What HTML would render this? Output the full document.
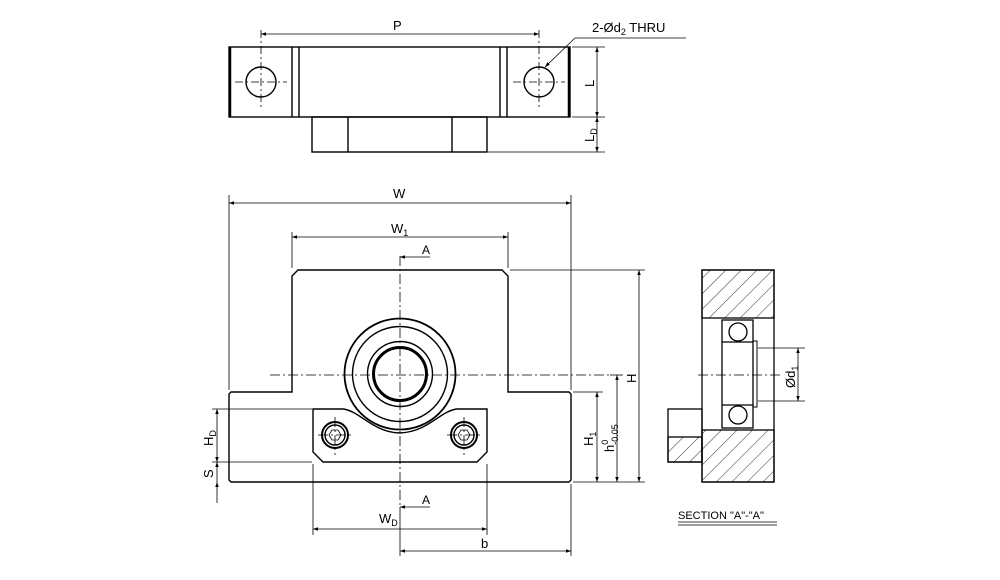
<!DOCTYPE html>
<html><head><meta charset="utf-8"><style>
html,body{margin:0;padding:0;background:#fff}
svg{display:block}
text{font-family:"Liberation Sans",sans-serif;fill:#000}
</style></head><body>
<svg width="1000" height="580" viewBox="0 0 1000 580" xmlns="http://www.w3.org/2000/svg">
<defs>
<marker id="ar" viewBox="0 0 10 10" refX="10" refY="5" markerWidth="10" markerHeight="5" orient="auto-start-reverse" markerUnits="userSpaceOnUse"><path d="M0,1.5 L10,5 L0,8.5 Z" fill="#000"/></marker>
<pattern id="hat" patternUnits="userSpaceOnUse" width="11" height="11" patternTransform="rotate(45)"><line x1="0" y1="0" x2="0" y2="11" stroke="#000" stroke-width="0.8"/></pattern>
</defs>
<g fill="none" stroke="#000" stroke-width="1.4">
<!-- TOP VIEW -->
<rect x="229" y="47" width="341" height="70"/>
<line x1="230" y1="47" x2="230" y2="117" stroke-width="2.5"/>
<line x1="569" y1="47" x2="569" y2="117" stroke-width="2.5"/>
<line x1="292" y1="47" x2="292" y2="117"/><line x1="299" y1="47" x2="299" y2="117"/>
<line x1="500" y1="47" x2="500" y2="117"/><line x1="507" y1="47" x2="507" y2="117"/>
<circle cx="261" cy="82" r="15"/><circle cx="539" cy="82" r="15"/>
<rect x="312" y="117" width="175" height="35"/>
<line x1="348" y1="117" x2="348" y2="152"/><line x1="452" y1="117" x2="452" y2="152"/>
</g>
<g stroke="#000" stroke-width="0.8" fill="none" stroke-dasharray="8,3,2,3">
<line x1="261" y1="30" x2="261" y2="108"/><line x1="235" y1="82" x2="287" y2="82"/>
<line x1="539" y1="30" x2="539" y2="108"/><line x1="513" y1="82" x2="565" y2="82"/>
</g>
<g stroke="#000" stroke-width="0.8" fill="none">
<line x1="261" y1="34" x2="539" y2="34" marker-start="url(#ar)" marker-end="url(#ar)"/>
<line x1="545" y1="67" x2="575" y2="38" marker-start="url(#ar)"/>
<line x1="575" y1="38" x2="686" y2="38"/>
<line x1="572" y1="47" x2="605" y2="47"/><line x1="488" y1="152" x2="605" y2="152"/><line x1="572" y1="117" x2="605" y2="117"/>
<line x1="597" y1="47" x2="597" y2="117" marker-start="url(#ar)" marker-end="url(#ar)"/>
<line x1="597" y1="117" x2="597" y2="152" marker-start="url(#ar)" marker-end="url(#ar)"/>
</g>
<text x="393" y="30" font-size="13">P</text>
<text x="592" y="32" font-size="13">2-Ød<tspan font-size="9" dy="3">2</tspan><tspan dy="-3"> THRU</tspan></text>
<text transform="translate(594,87) rotate(-90)" font-size="13">L</text>
<text transform="translate(594,142) rotate(-90)" font-size="13">L<tspan font-size="9" dy="3">D</tspan></text>

<!-- FRONT VIEW -->
<g fill="none" stroke="#000" stroke-width="1.4">
<path d="M292,392 L292,276 L298,270 L502,270 L508,276 L508,392 L569,392 L571,394 L571,480 L569,482 L231,482 L229,480 L229,394 L231,392 Z"/>
<path d="M313,409 L343,409 C360,411 372,432 400,433 C428,432 440,411 457,409 L487,409 L487,452 L477,462 L323,462 L313,452 Z"/>
<circle cx="400" cy="374" r="55.5" stroke-width="1.8"/>
<circle cx="400" cy="374" r="47.5"/>
<circle cx="400" cy="374" r="32.5"/>
<circle cx="400" cy="374" r="26.5" stroke-width="3"/>
<circle cx="335" cy="435" r="13" stroke-width="2"/>
<circle cx="335" cy="435" r="10"/>
<circle cx="464" cy="435" r="13" stroke-width="2"/>
<circle cx="464" cy="435" r="10"/>
<polygon points="341,435 338,440 332,440 329,435 332,430 338,430" stroke-width="0.8"/>
<polygon points="470,435 467,440 461,440 458,435 461,430 467,430" stroke-width="0.8"/>
</g>
<g stroke="#000" stroke-width="0.8" fill="none" stroke-dasharray="10,3,2,3">
<line x1="400" y1="256" x2="400" y2="507"/>
<line x1="270" y1="375" x2="610" y2="375"/>
<line x1="335" y1="417" x2="335" y2="455"/><line x1="318" y1="435" x2="352" y2="435"/>
<line x1="464" y1="417" x2="464" y2="455"/><line x1="447" y1="435" x2="481" y2="435"/>
</g>
<g stroke="#000" stroke-width="0.8" fill="none">
<line x1="229" y1="195" x2="229" y2="390"/><line x1="571" y1="195" x2="571" y2="390"/>
<line x1="292" y1="232" x2="292" y2="268"/><line x1="508" y1="232" x2="508" y2="268"/>
<line x1="229" y1="203" x2="571" y2="203" marker-start="url(#ar)" marker-end="url(#ar)"/>
<line x1="292" y1="237" x2="508" y2="237" marker-start="url(#ar)" marker-end="url(#ar)"/>
<line x1="430" y1="257" x2="400" y2="257" marker-end="url(#ar)"/>
<line x1="430" y1="507" x2="400" y2="507" marker-end="url(#ar)"/>
<line x1="510" y1="270" x2="645" y2="270"/>
<line x1="573" y1="482" x2="645" y2="482"/>
<line x1="573" y1="392" x2="603" y2="392"/>
<line x1="610" y1="375" x2="623" y2="375"/>
<line x1="639" y1="270" x2="639" y2="482" marker-start="url(#ar)" marker-end="url(#ar)"/>
<line x1="617" y1="375" x2="617" y2="482" marker-start="url(#ar)" marker-end="url(#ar)"/>
<line x1="597" y1="392" x2="597" y2="482" marker-start="url(#ar)" marker-end="url(#ar)"/>
<line x1="212" y1="409" x2="312" y2="409"/>
<line x1="212" y1="462" x2="312" y2="462"/>
<line x1="217" y1="409" x2="217" y2="462" marker-start="url(#ar)" marker-end="url(#ar)"/>
<line x1="217" y1="462" x2="217" y2="482" marker-start="url(#ar)"/>
<line x1="217" y1="482" x2="217" y2="503" marker-start="url(#ar)"/>
<line x1="313" y1="464" x2="313" y2="535"/><line x1="487" y1="464" x2="487" y2="535"/>
<line x1="400" y1="507" x2="400" y2="556"/><line x1="571" y1="484" x2="571" y2="556"/>
<line x1="313" y1="529" x2="487" y2="529" marker-start="url(#ar)" marker-end="url(#ar)"/>
<line x1="400" y1="551" x2="571" y2="551" marker-start="url(#ar)" marker-end="url(#ar)"/>
</g>
<text x="393" y="198" font-size="13">W</text>
<text x="391" y="233" font-size="13">W<tspan font-size="9" dy="3">1</tspan></text>
<text x="422" y="254" font-size="12">A</text>
<text x="422" y="504" font-size="12">A</text>
<text x="379" y="523" font-size="13">W<tspan font-size="9" dy="3">D</tspan></text>
<text x="481" y="548" font-size="13">b</text>
<text transform="translate(636,383) rotate(-90)" font-size="13">H</text>
<text transform="translate(593,446) rotate(-90)" font-size="13">H<tspan font-size="9" dy="3">1</tspan></text>
<text transform="translate(614,452) rotate(-90)" font-size="13">h<tspan font-size="9" dy="-6">0</tspan><tspan font-size="9" dx="-5" dy="10">-0.05</tspan></text>
<text transform="translate(213,446) rotate(-90)" font-size="13">H<tspan font-size="9" dy="3">D</tspan></text>
<text transform="translate(213,478) rotate(-90)" font-size="13">S</text>

<!-- SECTION VIEW -->
<g stroke="#000" stroke-width="1.3">
<rect x="702" y="270" width="72" height="48" fill="url(#hat)"/>
<rect x="702" y="430" width="72" height="52" fill="url(#hat)"/>
<rect x="668" y="437" width="34" height="25" fill="url(#hat)"/>
</g>
<g fill="none" stroke="#000" stroke-width="1.3">
<rect x="702" y="270" width="72" height="212"/>
<rect x="668" y="409" width="34" height="53"/>
<rect x="722" y="320" width="31" height="108"/>
<line x1="722" y1="342" x2="753" y2="342"/><line x1="722" y1="405" x2="753" y2="405"/>
<circle cx="738" cy="332" r="9"/><circle cx="738" cy="415" r="9"/>
<rect x="753" y="341" width="4" height="66" stroke-width="1"/>
</g>
<g stroke="#000" stroke-width="0.8" fill="none">
<line x1="698" y1="375" x2="780" y2="375" stroke-dasharray="10,3,2,3"/>
<line x1="758" y1="348" x2="805" y2="348"/><line x1="758" y1="401" x2="805" y2="401"/>
<line x1="798" y1="348" x2="798" y2="401" marker-start="url(#ar)" marker-end="url(#ar)"/>
<line x1="678" y1="522" x2="777" y2="522"/><line x1="678" y1="525" x2="777" y2="525"/>
</g>
<text transform="translate(795,388) rotate(-90)" font-size="13">Ød<tspan font-size="9" dy="3">1</tspan></text>
<text x="678" y="519" font-size="11">SECTION "A"-"A"</text>
</svg>
</body></html>
